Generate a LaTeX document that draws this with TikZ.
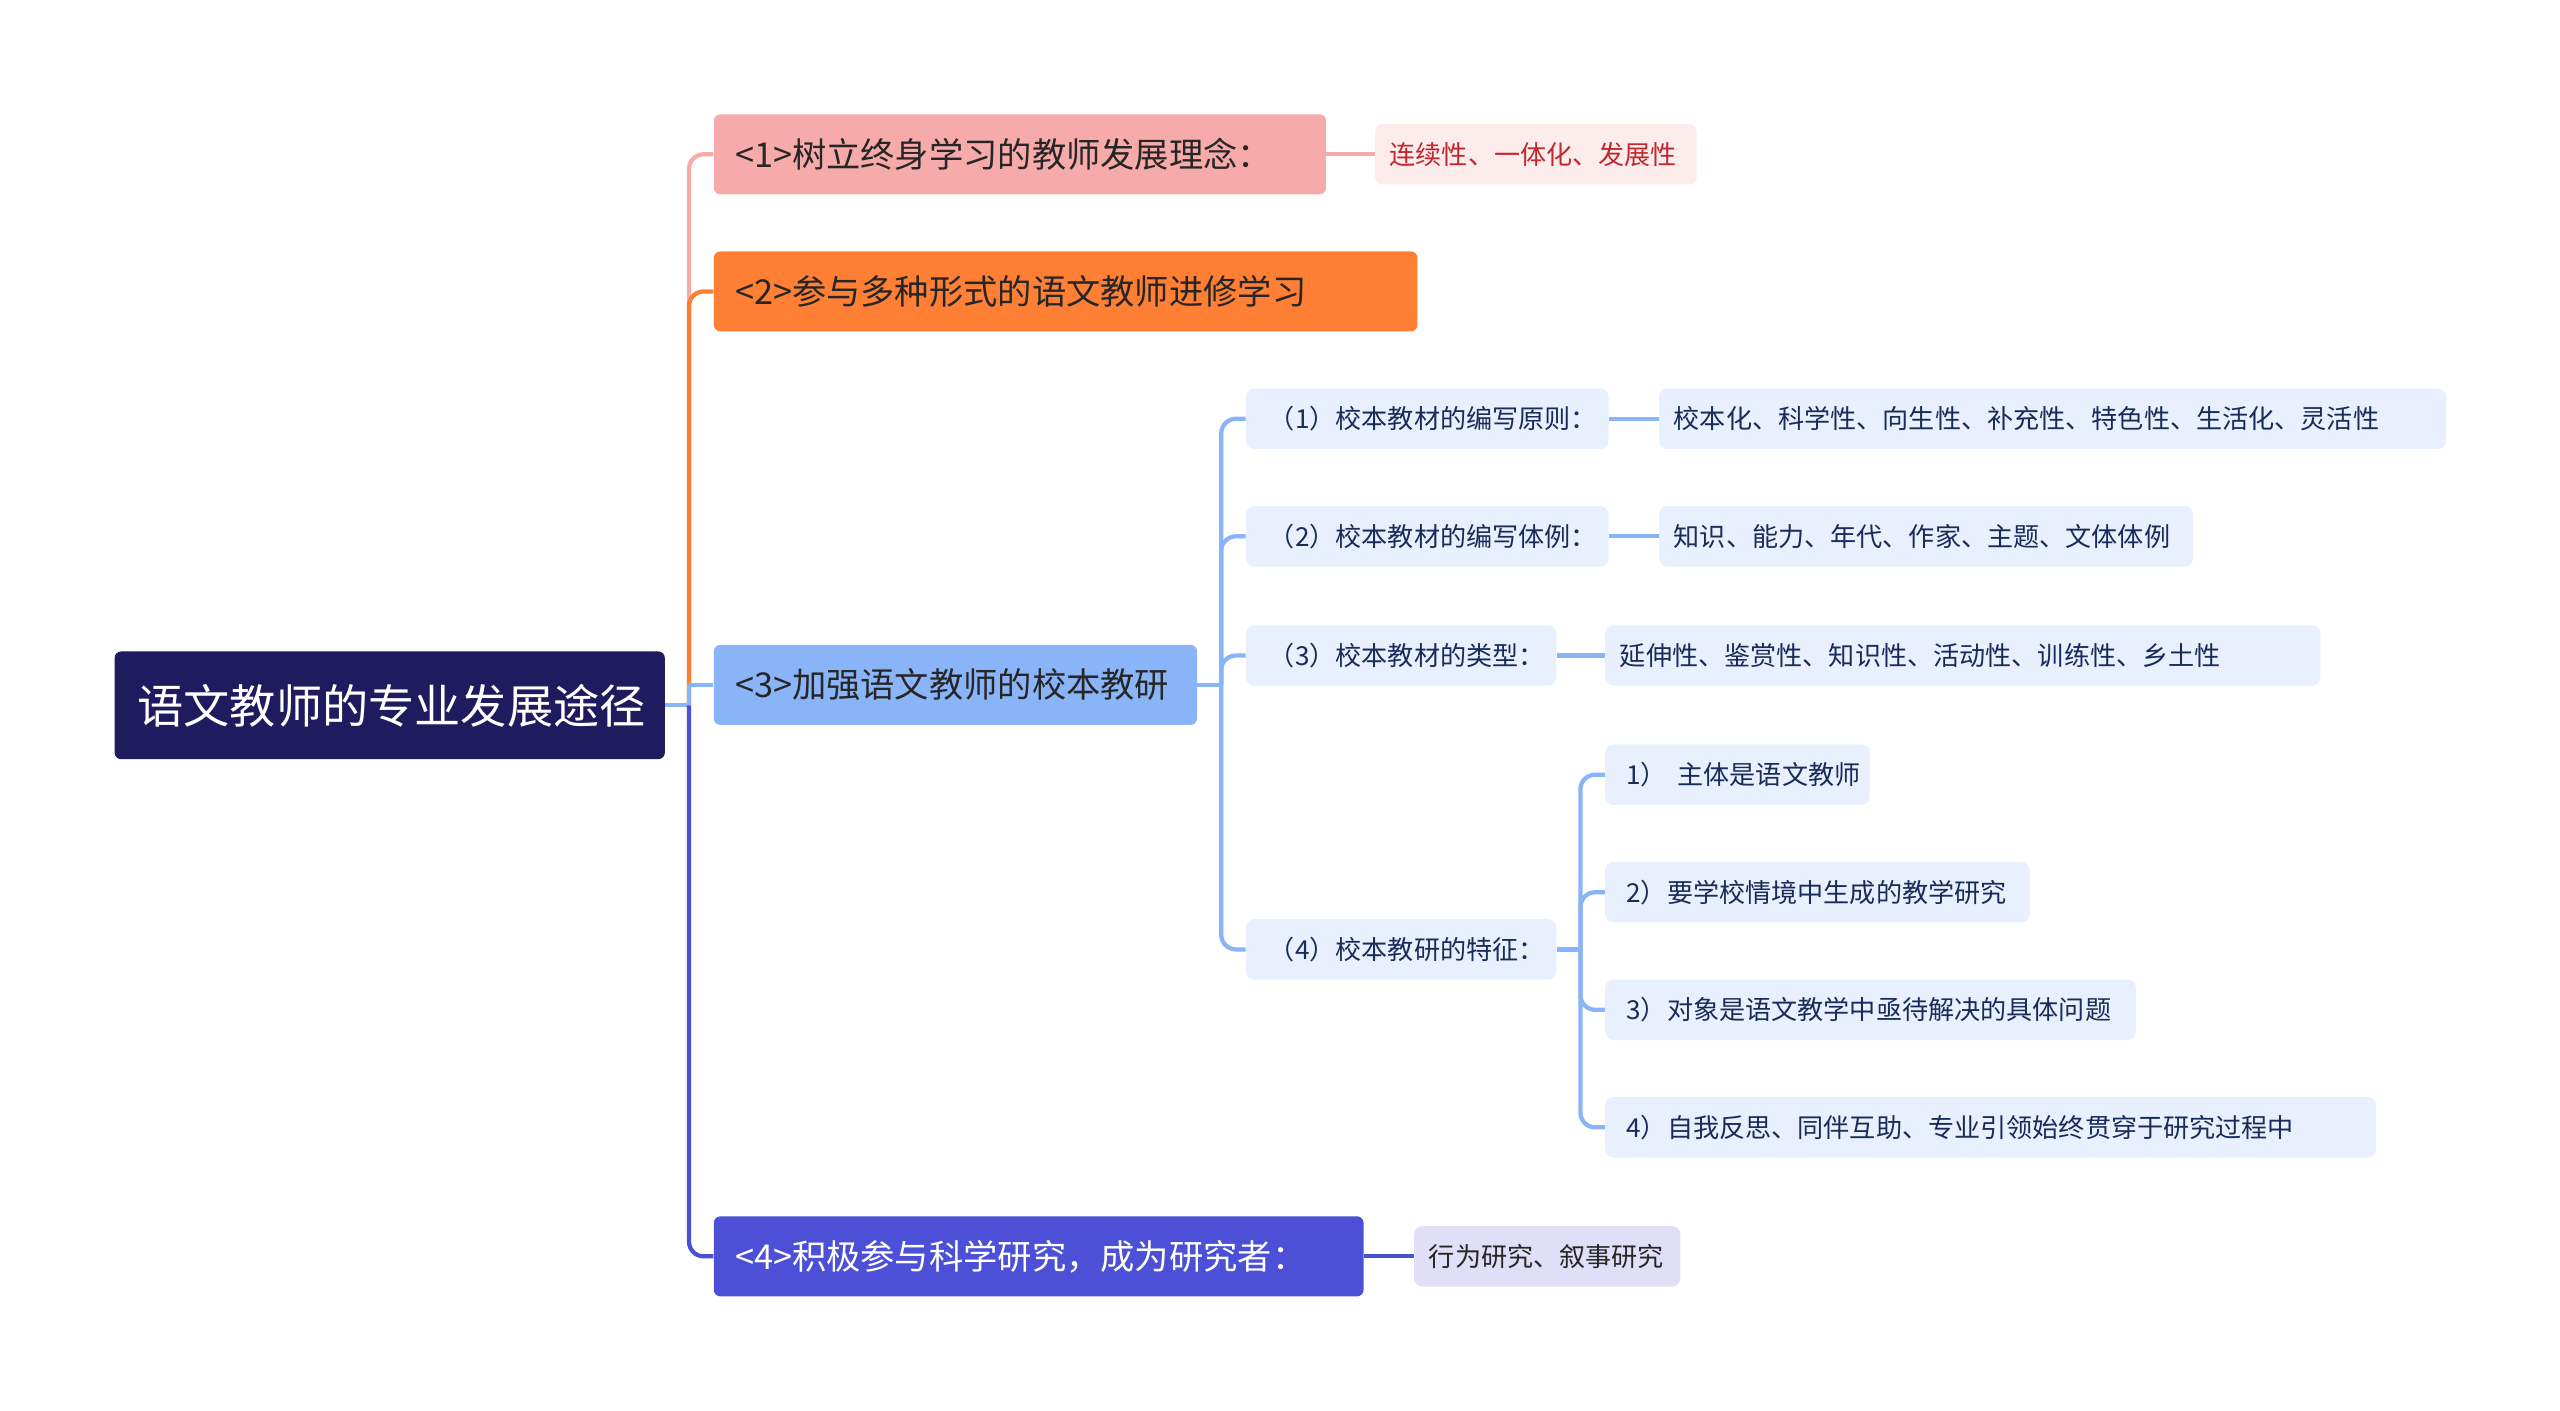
\documentclass[tikz,border=0pt]{standalone}
\usepackage{fontspec}
\setmainfont{Noto Sans CJK SC}
\begin{document}
\begin{tikzpicture}[x=1pt,y=-1pt,
 box/.style={anchor=west,rounded corners=4pt,inner xsep=13pt,inner ysep=0pt,align=left},
 big/.style={box,font=\fontsize{21}{24}\selectfont,minimum height=49},
 small/.style={box,font=\fontsize{16}{19}\selectfont,inner xsep=9pt,rounded corners=5pt,minimum height=37},
 sub/.style={small,fill=subbg,text=subtx,inner xsep=14pt},
 leaf/.style={small,fill=subbg,text=subtx},
 lk/.style={line width=2.6pt,rounded corners=9pt}]
\definecolor{rootc}{HTML}{1E1B5E}
\definecolor{pinkc}{HTML}{F7AAAA}
\definecolor{pinkl}{HTML}{FDECEC}
\definecolor{redt}{HTML}{C0282E}
\definecolor{orc}{HTML}{FF7F35}
\definecolor{lbc}{HTML}{8AB4F8}
\definecolor{subbg}{HTML}{E8F0FD}
\definecolor{subtx}{HTML}{1A2B5A}
\definecolor{pc}{HTML}{4B50D6}
\definecolor{pl}{HTML}{E0DFF7}
\fill[white] (0,0) rectangle (1568,864);
\useasboundingbox (0,0) rectangle (1568,864);
\node[box,fill=rootc,text=white,text width=309pt,minimum height=66,font=\fontsize{28.3}{34}\selectfont,inner xsep=14pt] (root) at (70,432) {语文教师的专业发展途径};
\node[big,fill=pinkc,text=black!85,text width=349pt] (n1) at (437,94.5) {<1>树立终身学习的教师发展理念：};
\node[big,fill=orc,text=black!85,text width=405pt] (n2) at (437,178.5) {<2>参与多种形式的语文教师进修学习};
\node[big,fill=lbc,text=black!85,text width=270pt] (n3) at (437,419.5) {<3>加强语文教师的校本教研};
\node[big,fill=pc,text=white,text width=372pt] (n4) at (437,769.5) {<4>积极参与科学研究，成为研究者：};
\node[small,fill=pinkl,text=redt,text width=179pt] (l1) at (842,94.5) {连续性、一体化、发展性};
\node[small,fill=pl,text=black!85,text width=145pt] (l4) at (866,769.5) {行为研究、叙事研究};
\node[sub,text width=194pt] (s1) at (763,256.5) {（1）校本教材的编写原则：};
\node[sub,text width=194pt] (s2) at (763,328.5) {（2）校本教材的编写体例：};
\node[sub,text width=162pt] (s3) at (763,401.5) {（3）校本教材的类型：};
\node[sub,text width=162pt] (s4) at (763,581.5) {（4）校本教研的特征：};
\node[leaf,text width=464pt] (t1) at (1016,256.5) {校本化、科学性、向生性、补充性、特色性、生活化、灵活性};
\node[leaf,text width=309pt] (t2) at (1016,328.5) {知识、能力、年代、作家、主题、文体体例};
\node[leaf,text width=420pt] (t3) at (983,401.5) {延伸性、鉴赏性、知识性、活动性、训练性、乡土性};
\node[leaf,inner xsep=13pt,text width=136pt] (c1) at (983,474.5) {\mbox{1）\hspace{0.4em}主体是语文教师}};
\node[leaf,inner xsep=13pt,text width=234pt] (c2) at (983,546.5) {2）要学校情境中生成的教学研究};
\node[leaf,inner xsep=13pt,text width=299pt] (c3) at (983,618.5) {3）对象是语文教学中亟待解决的具体问题};
\node[leaf,inner xsep=13pt,text width=446pt] (c4) at (983,690.5) {4）自我反思、同伴互助、专业引领始终贯穿于研究过程中};
\coordinate (j0) at (422,432);
\coordinate (j3) at (748,419.5);
\coordinate (j4) at (968,581.5);
\draw[line width=2.6pt,lbc] (root.east) -- (j0);
\draw[lk,pinkc] (j0) |- (n1.west);
\draw[lk,orc] (j0) |- (n2.west);
\draw[line width=2.6pt,lbc] (j0) |- (n3.west);
\draw[lk,pc] (j0) |- (n4.west);
\draw[lk,pinkc] (n1.east) -- (l1.west);
\draw[lk,pc] (n4.east) -- (l4.west);
\draw[line width=2.6pt,lbc] (n3.east) -- (j3);
\foreach \s in {s1,s2,s3,s4} \draw[lk,lbc] (j3) |- (\s.west);
\draw[lk,lbc] (s1.east) -- (t1.west);
\draw[lk,lbc] (s2.east) -- (t2.west);
\draw[lk,lbc] (s3.east) -- (t3.west);
\draw[line width=2.6pt,lbc] (s4.east) -- (j4);
\foreach \c in {c1,c2,c3,c4} \draw[lk,lbc] (j4) |- (\c.west);
\end{tikzpicture}
\end{document}
